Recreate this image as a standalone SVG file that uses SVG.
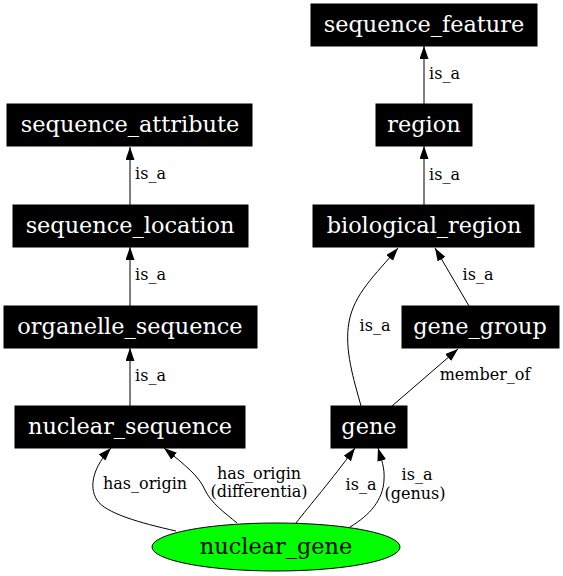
<svg xmlns="http://www.w3.org/2000/svg" width="563" height="576" viewBox="0 0 563 576">
<defs>
<marker id="arr" markerWidth="13" markerHeight="10" refX="13" refY="4.5" orient="auto" markerUnits="userSpaceOnUse">
<path d="M0,0 L13,4.5 L0,9 Z" fill="#000"/>
</marker>
<style>
.box{fill:#000;stroke:#000;stroke-width:1}
.nt{fill:#fff;font-family:"DejaVu Serif",serif;font-size:22.4px;text-anchor:middle}
.gt{fill:#000;font-family:"DejaVu Serif",serif;font-size:22.4px;text-anchor:middle}
.e{fill:none;stroke:#000;stroke-width:1;marker-end:url(#arr)}
.lt{fill:#000;font-family:"DejaVu Serif",serif;font-size:16px;text-anchor:middle}
</style>
</defs>
<rect width="563" height="576" fill="#fff"/>
<g id="edges">
<path class="e" d="M130,205 L130,147"/>
<text class="lt" x="150.5" y="179">is_a</text>
<path class="e" d="M130,306 L130,247"/>
<text class="lt" x="150.5" y="280">is_a</text>
<path class="e" d="M130,406 L130,348"/>
<text class="lt" x="150.5" y="381">is_a</text>
<path class="e" d="M424,104 L424,46"/>
<text class="lt" x="444.5" y="79">is_a</text>
<path class="e" d="M424,206 L424,146"/>
<text class="lt" x="444.5" y="180">is_a</text>
<path class="e" d="M361,406 C354,380 344,350 349,322 C354,294 375,275 398,248"/>
<text class="lt" x="375" y="331">is_a</text>
<path class="e" d="M469,306 L435,248"/>
<text class="lt" x="478" y="280">is_a</text>
<path class="e" d="M392,406 L458,349"/>
<text class="lt" x="485" y="380">member_of</text>
<path class="e" d="M176,531 C140,523 105,513 97,500 C88,486 94,466 111,448"/>
<text class="lt" x="145" y="489">has_origin</text>
<path class="e" d="M237,523 C225,513 211,503 205,490 C199,476 185,465 164,448"/>
<text class="lt" x="259" y="479">has_origin</text>
<text class="lt" x="259" y="497">(differentia)</text>
<path class="e" d="M296,523 C310,505 330,482 355,448"/>
<text class="lt" x="361" y="490">is_a</text>
<path class="e" d="M350,527 C370,515 383,500 384,480 C385,468 381,458 378,448"/>
<text class="lt" x="417" y="480">is_a</text>
<text class="lt" x="415" y="499">(genus)</text>
</g>
<g id="sequence_feature"><rect class="box" x="311" y="4" width="226" height="42"/><text class="nt" x="424" y="32">sequence_feature</text></g>
<g id="sequence_attribute"><rect class="box" x="7" y="104" width="245" height="42"/><text class="nt" x="130" y="132">sequence_attribute</text></g>
<g id="region"><rect class="box" x="376" y="104" width="96" height="42"/><text class="nt" x="424" y="132">region</text></g>
<g id="sequence_location"><rect class="box" x="13" y="205" width="235" height="42"/><text class="nt" x="130" y="233">sequence_location</text></g>
<g id="biological_region"><rect class="box" x="313" y="205" width="221" height="42"/><text class="nt" x="424" y="233">biological_region</text></g>
<g id="organelle_sequence"><rect class="box" x="4" y="306" width="253" height="42"/><text class="nt" x="130" y="334">organelle_sequence</text></g>
<g id="gene_group"><rect class="box" x="402" y="306" width="157" height="42"/><text class="nt" x="480" y="334">gene_group</text></g>
<g id="nuclear_sequence"><rect class="box" x="15" y="406" width="230" height="42"/><text class="nt" x="130" y="434">nuclear_sequence</text></g>
<g id="gene"><rect class="box" x="331" y="406" width="76" height="42"/><text class="nt" x="369" y="434">gene</text></g>
<g id="nuclear_gene"><ellipse cx="276" cy="547" rx="124" ry="24" fill="#00ff00" stroke="#000" stroke-width="1"/><text class="gt" x="276" y="554">nuclear_gene</text></g>
</svg>
